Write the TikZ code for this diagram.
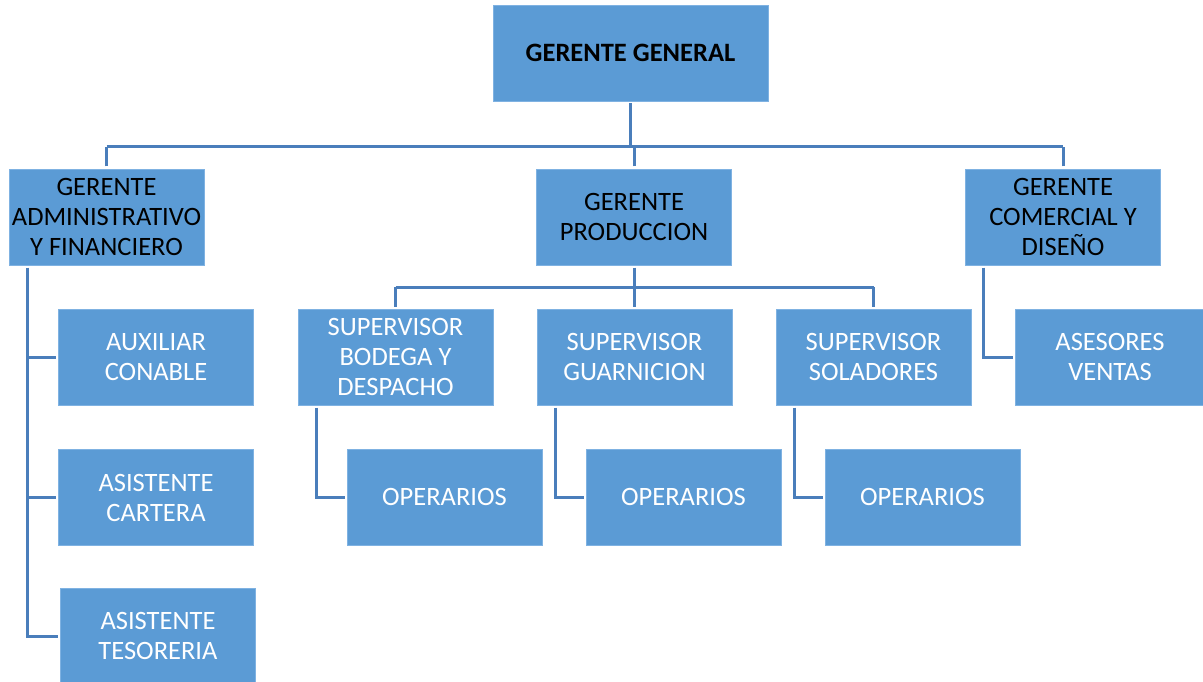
\documentclass[tikz,border=0pt]{standalone}
\usepackage{fontspec}
\setmainfont{Carlito}
\definecolor{boxfill}{HTML}{5B9BD5}
\definecolor{boxedge}{HTML}{7FB2E2}
\definecolor{linkcol}{HTML}{4A7EBB}
\tikzset{
  box/.style={rectangle, fill=boxfill, draw=boxedge, line width=0.8pt,
    minimum width=195pt, minimum height=96pt, inner sep=0pt, outer sep=2.5pt,
    align=center, font=\fontsize{26.5}{30}\selectfont, text=white},
  boss/.style={box, text=black},
  link/.style={draw=linkcol, line width=3pt}
}
\begin{document}
\begin{tikzpicture}[x=1pt,y=-1pt]
\useasboundingbox (0,0) rectangle (1203,682);

% top level
\node[boss, minimum width=275pt, font=\fontsize{26.5}{30}\selectfont\bfseries] (gg) at (630.5,53) {GERENTE GENERAL};

% managers
\node[boss] (adm) at (106.5,217) {GERENTE\\ADMINISTRATIVO\\Y FINANCIERO};
\node[boss] (prod) at (634,217) {GERENTE\\PRODUCCION};
\node[boss] (com) at (1063,217) {GERENTE\\COMERCIAL Y\\DISEÑO};

% administrative staff
\node[box] (aux) at (156,357) {AUXILIAR\\CONABLE};
\node[box] (car) at (156,497.5) {ASISTENTE\\CARTERA};
\node[box] (tes) at (158,636) {ASISTENTE\\TESORERIA};

% production supervisors
\node[box] (bod) at (395.5,357) {SUPERVISOR\\BODEGA Y\\DESPACHO};
\node[box] (gua) at (634.5,357) {SUPERVISOR\\GUARNICION};
\node[box] (sol) at (873.5,357) {SUPERVISOR\\SOLADORES};

% sales
\node[box, minimum width=190pt] (ase) at (1110,357) {ASESORES\\VENTAS};

% workers
\node[box] (op1) at (444.5,497) {OPERARIOS};
\node[box] (op2) at (683.5,497) {OPERARIOS};
\node[box] (op3) at (922.5,497) {OPERARIOS};

% bus under the general manager
\coordinate (busg) at (0,147);
\draw[link] (gg.south) -- (gg.south |- busg);
\draw[link] (adm.north |- busg) -- (com.north |- busg);
\draw[link] (adm.north) -- (adm.north |- busg);
\draw[link] (prod.north) -- (prod.north |- busg);
\draw[link] (com.north) -- (com.north |- busg);

% bus under production
\coordinate (busp) at (0,287);
\draw[link] (prod.south) -- (prod.south |- busp);
\draw[link] (bod.north |- busp) -- (sol.north |- busp);
\draw[link] (bod.north) -- (bod.north |- busp);
\draw[link] (gua.north) -- (gua.north |- busp);
\draw[link] (sol.north) -- (sol.north |- busp);

% administrative side branch
\coordinate (admx) at ([xshift=20.5pt]adm.south west);
\draw[link] (admx) -- (admx |- tes.west) -- (tes.west);
\draw[link] (admx |- aux.west) -- (aux.west);
\draw[link] (admx |- car.west) -- (car.west);

% supervisors to workers
\coordinate (bx) at ([xshift=20.5pt]bod.south west);
\draw[link] (bx) -- (bx |- op1.west) -- (op1.west);
\coordinate (gx) at ([xshift=20.5pt]gua.south west);
\draw[link] (gx) -- (gx |- op2.west) -- (op2.west);
\coordinate (sx) at ([xshift=20.5pt]sol.south west);
\draw[link] (sx) -- (sx |- op3.west) -- (op3.west);

% commercial to sales advisers
\coordinate (cx) at ([xshift=20.5pt]com.south west);
\draw[link] (cx) -- (cx |- ase.west) -- (ase.west);
\end{tikzpicture}
\end{document}
